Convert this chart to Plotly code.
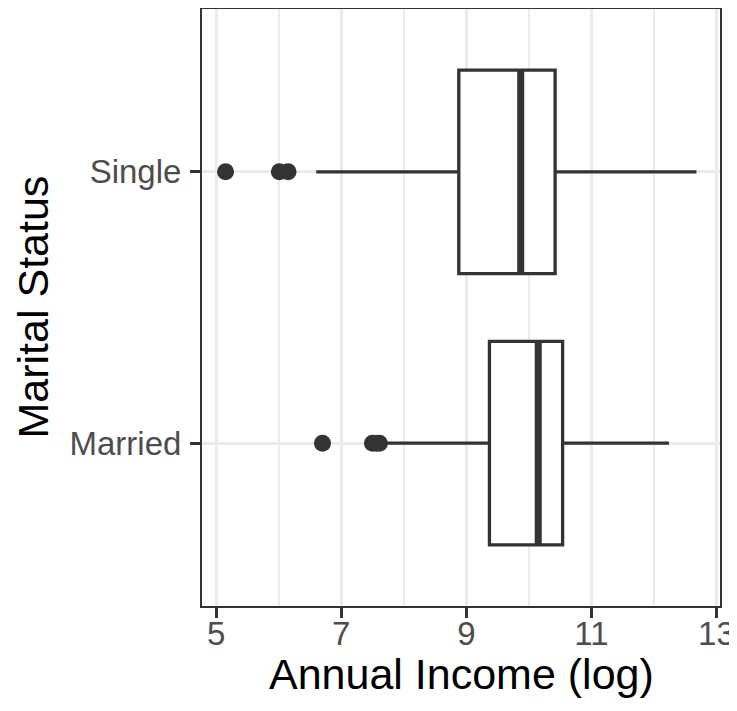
import plotly.graph_objects as go

# ---- data ----
categories = ["Married", "Single"]
positions = [1, 2]
q1 = [9.37, 8.88]
median = [10.15, 9.87]
q3 = [10.54, 10.42]
lower_whisker = [7.66, 6.60]
upper_whisker = [12.24, 12.68]
outliers = [
    [6.70, 7.50, 7.56, 7.61],   # Married
    [5.15, 6.01, 6.15],          # Single
]
x_ticks = [5, 7, 9, 11, 13]
x_minor = [6, 8, 10, 12]
x_title = "Annual Income (log)"
y_title = "Marital Status"

BOX_W = 0.75
DARK = "#333333"
GRID = "#EBEBEB"
FONT = "Liberation Sans, Arial, Helvetica, sans-serif"

fig = go.Figure()

for i, cat in enumerate(categories):
    p = positions[i]
    fig.add_trace(go.Box(
        y=[p], q1=[q1[i]], median=[median[i]], q3=[q3[i]],
        lowerfence=[lower_whisker[i]], upperfence=[upper_whisker[i]],
        orientation="h", width=BOX_W, boxpoints=False, whiskerwidth=0,
        fillcolor="white", line=dict(color=DARK, width=3.3),
        name=cat, showlegend=False, hoverinfo="skip",
    ))
    # thicker median line (ggplot style)
    fig.add_trace(go.Scatter(
        x=[median[i], median[i]], y=[p - BOX_W / 2, p + BOX_W / 2],
        mode="lines", line=dict(color=DARK, width=7),
        showlegend=False, hoverinfo="skip",
    ))
    fig.add_trace(go.Scatter(
        x=outliers[i], y=[p] * len(outliers[i]),
        mode="markers", marker=dict(color=DARK, size=17, line=dict(width=0)),
        showlegend=False, hoverinfo="skip",
    ))

all_vals = [v for o in outliers for v in o] + lower_whisker + upper_whisker
lo, hi = min(all_vals), max(all_vals)
pad = 0.05 * (hi - lo)

# page has an 8px body margin, so the figure is sized 8px smaller
fig.update_layout(
    width=729, height=703,
    margin=dict(l=194, r=17, t=1, b=105),
    paper_bgcolor="white", plot_bgcolor="white",
    font=dict(family=FONT),
    showlegend=False,
    xaxis=dict(
        range=[lo - pad, hi + pad], automargin=False,
        tickvals=x_ticks, ticktext=[str(t) for t in x_ticks],
        showgrid=True, gridcolor=GRID, gridwidth=2.5,
        minor=dict(tickvals=x_minor, showgrid=True, gridcolor=GRID, gridwidth=1.5, ticks=""),
        zeroline=False,
        showline=True, linecolor=DARK, linewidth=2, mirror=True,
        ticks="outside", ticklen=10, tickwidth=3, tickcolor=DARK,
        ticklabelstandoff=-13,
        tickfont=dict(size=33, color="#4D4D4D", family=FONT),
    ),
    yaxis=dict(
        range=[0.4, 2.6], automargin=False,
        tickvals=positions, ticktext=categories,
        showgrid=True, gridcolor=GRID, gridwidth=2.5,
        zeroline=False,
        showline=True, linecolor=DARK, linewidth=2, mirror=True,
        ticks="outside", ticklen=10, tickwidth=3, tickcolor=DARK,
        ticklabelstandoff=2,
        tickfont=dict(size=33, color="#4D4D4D", family=FONT),
    ),
    annotations=[
        dict(text=x_title, xref="paper", yref="paper", x=0.5, y=0,
             xanchor="center", yanchor="middle", yshift=-68, showarrow=False,
             font=dict(size=43, color="black", family=FONT)),
        dict(text=y_title, xref="paper", yref="paper", x=0, y=0.5,
             xanchor="center", yanchor="middle", xshift=-170, textangle=-90,
             showarrow=False, font=dict(size=43, color="black", family=FONT)),
    ],
)

fig.write_html("out.html")
